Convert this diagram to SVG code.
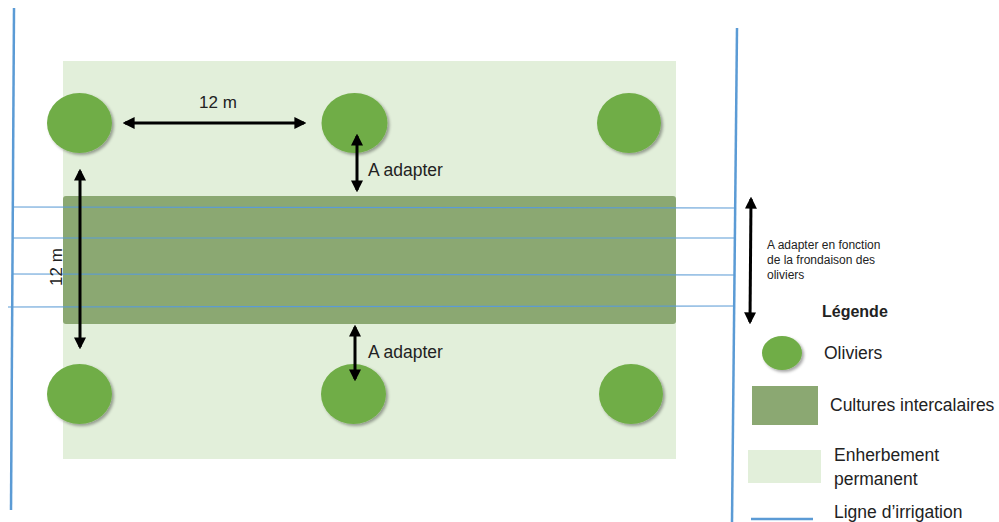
<svg xmlns="http://www.w3.org/2000/svg" width="999" height="522" viewBox="0 0 999 522">
<style>
.t{font-family:"Liberation Sans",Arial,sans-serif;fill:#222}
.tree{fill:#70ad47}
.irr{stroke:#5b9bd5;stroke-width:1.2;fill:none}
.irrv{stroke:#5b9bd5;stroke-width:2.5;fill:none}
.dim{stroke:#000;stroke-width:3;fill:none;marker-start:url(#ah);marker-end:url(#ah)}
</style>
<defs>
<marker id="ah" viewBox="0 0 10 10" refX="8" refY="5" markerWidth="4" markerHeight="4" orient="auto-start-reverse" markerUnits="strokeWidth">
<path d="M0,0 L10,5 L0,10 z" fill="#000"/>
</marker>
<filter id="sh" x="-20%" y="-20%" width="150%" height="150%">
<feDropShadow dx="2" dy="2" stdDeviation="1.5" flood-color="#000" flood-opacity="0.35"/>
</filter>
</defs>
<rect width="999" height="522" fill="#fff"/>
<g id="enherbement"><rect x="63" y="61" width="613" height="398" fill="#e2efda"/></g>
<g id="cultures"><rect x="63" y="196" width="613" height="128" rx="3" fill="#8ba872"/></g>
<g id="trees" filter="url(#sh)">
<ellipse id="o1" class="tree" cx="79.5" cy="123" rx="32.5" ry="30"/>
<ellipse id="o2" class="tree" cx="354.5" cy="123" rx="33" ry="30"/>
<ellipse id="o3" class="tree" cx="629" cy="123" rx="32" ry="30"/>
<ellipse id="o4" class="tree" cx="79.5" cy="394" rx="32.5" ry="30"/>
<ellipse id="o5" class="tree" cx="353.5" cy="394" rx="32.5" ry="30"/>
<ellipse id="o6" class="tree" cx="631" cy="394" rx="32" ry="30"/>
</g>
<g id="connectors">
<line class="irrv" x1="14" y1="8" x2="11" y2="510"/>
<line class="irrv" x1="737" y1="28" x2="732" y2="522"/>
<line class="irr" x1="12" y1="207" x2="735" y2="208"/>
<line class="irr" x1="12" y1="238" x2="735" y2="238"/>
<line class="irr" x1="12" y1="274" x2="735" y2="275"/>
<line class="irr" x1="8" y1="307" x2="734" y2="306"/>
<line class="dim" x1="125" y1="123" x2="304" y2="123"/>
<line class="dim" x1="80" y1="171" x2="80" y2="347"/>
<line class="dim" x1="357" y1="136" x2="357" y2="190"/>
<line class="dim" x1="355" y1="327" x2="355" y2="379"/>
<line class="dim" x1="751" y1="199" x2="750" y2="322"/>
</g>
<g id="labels">
<text class="t" x="218" y="108" font-size="17" text-anchor="middle">12 m</text>
<text class="t" font-size="17" text-anchor="middle" transform="translate(62,267) rotate(-90)">12 m</text>
<text class="t" x="368" y="176" font-size="17.5">A adapter</text>
<text class="t" x="368" y="358" font-size="17.5">A adapter</text>
<text class="t" x="767" y="249" font-size="12">A adapter en fonction</text>
<text class="t" x="767" y="264" font-size="12">de la frondaison des</text>
<text class="t" x="767" y="279" font-size="12">oliviers</text>
</g>
<g id="legend">
<text class="t" x="822" y="317" font-size="16" font-weight="bold">Légende</text>
<ellipse class="tree" cx="782" cy="353" rx="20" ry="17" filter="url(#sh)"/>
<text class="t" x="824" y="359" font-size="17.5">Oliviers</text>
<rect x="752" y="386" width="66" height="39" fill="#8ba872"/>
<text class="t" x="830" y="411" font-size="17.5">Cultures intercalaires</text>
<rect x="748" y="450" width="73" height="33" fill="#e2efda"/>
<text class="t" x="834" y="461" font-size="17.5">Enherbement</text>
<text class="t" x="834" y="485" font-size="17.5">permanent</text>
<line class="irrv" x1="751" y1="519" x2="813" y2="519"/>
<text class="t" x="834" y="518" font-size="17.5">Ligne d’irrigation</text>
</g>
</svg>
